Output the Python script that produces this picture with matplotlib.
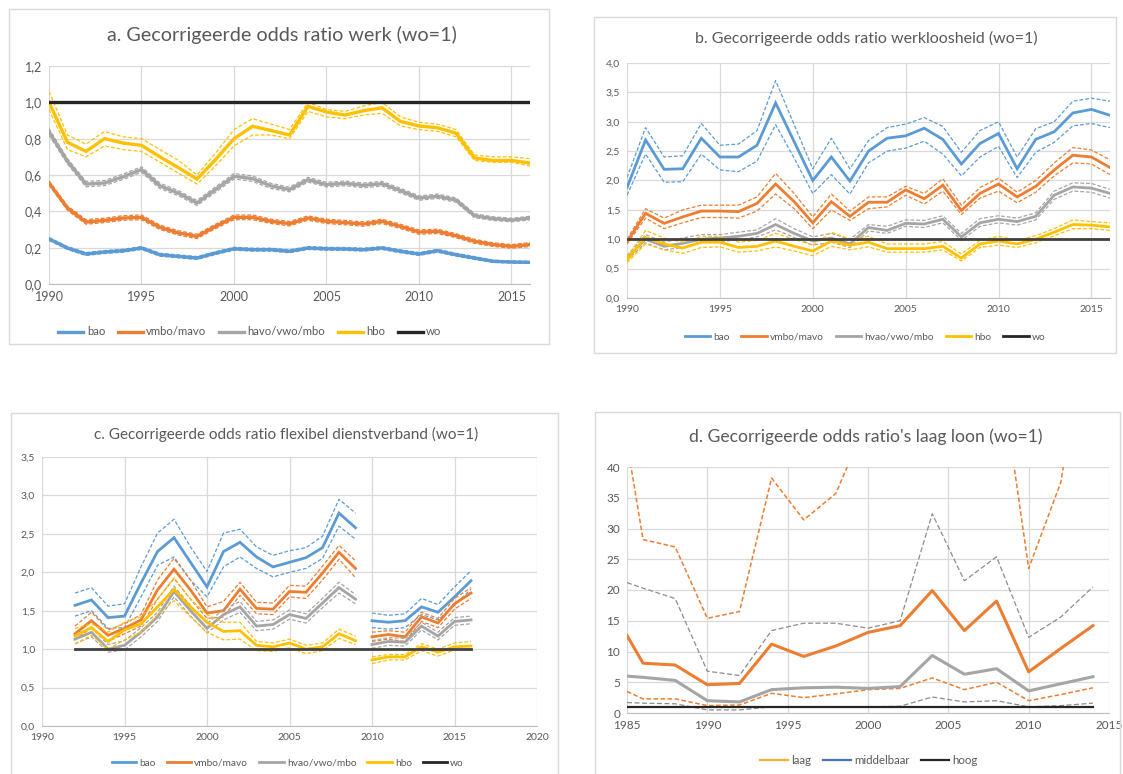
import matplotlib
matplotlib.use('Agg')
import matplotlib.pyplot as plt
from matplotlib.lines import Line2D
from matplotlib.patches import Rectangle

plt.rcParams['font.family'] = ['Lato', 'DejaVu Sans']

# # Data
# panel a/b: yearly 1990-2016
years_ab = list(range(1990, 2017))

a_bao = [0.248, 0.198, 0.165, 0.176, 0.183, 0.198, 0.161, 0.152, 0.143, 0.170, 0.194, 0.189, 0.189, 0.180,
         0.198, 0.194, 0.193, 0.189, 0.198, 0.180, 0.165, 0.183, 0.161, 0.143, 0.125, 0.121, 0.119]
a_bao_hi = [0.256, 0.206, 0.173, 0.184, 0.191, 0.206, 0.169, 0.160, 0.151, 0.178, 0.202, 0.197, 0.197, 0.188,
            0.206, 0.202, 0.201, 0.197, 0.206, 0.188, 0.173, 0.191, 0.169, 0.151, 0.131, 0.127, 0.125]
a_bao_lo = [0.240, 0.190, 0.157, 0.168, 0.175, 0.190, 0.153, 0.144, 0.135, 0.162, 0.186, 0.181, 0.181, 0.172,
            0.190, 0.186, 0.185, 0.181, 0.190, 0.172, 0.157, 0.175, 0.153, 0.135, 0.119, 0.115, 0.113]
a_vmbo = [0.556, 0.418, 0.341, 0.350, 0.363, 0.367, 0.312, 0.281, 0.262, 0.317, 0.367, 0.367, 0.345, 0.332,
          0.363, 0.345, 0.338, 0.330, 0.345, 0.317, 0.286, 0.290, 0.266, 0.235, 0.217, 0.207, 0.217]
a_vmbo_hi = [0.568, 0.430, 0.354, 0.362, 0.376, 0.380, 0.324, 0.293, 0.274, 0.329, 0.380, 0.380, 0.357, 0.344,
             0.375, 0.357, 0.350, 0.342, 0.357, 0.329, 0.298, 0.302, 0.277, 0.246, 0.227, 0.217, 0.228]
a_vmbo_lo = [0.544, 0.406, 0.329, 0.338, 0.351, 0.354, 0.300, 0.269, 0.250, 0.305, 0.354, 0.354, 0.333, 0.320,
             0.351, 0.333, 0.326, 0.318, 0.333, 0.305, 0.274, 0.278, 0.255, 0.224, 0.207, 0.197, 0.206]
a_havo = [0.837, 0.675, 0.550, 0.556, 0.590, 0.630, 0.540, 0.500, 0.446, 0.520, 0.593, 0.580, 0.540, 0.520,
          0.574, 0.547, 0.554, 0.543, 0.552, 0.514, 0.473, 0.483, 0.462, 0.376, 0.360, 0.352, 0.363]
a_havo_hi = [0.855, 0.690, 0.565, 0.570, 0.605, 0.645, 0.555, 0.514, 0.460, 0.535, 0.608, 0.595, 0.554, 0.533,
             0.587, 0.560, 0.567, 0.556, 0.565, 0.527, 0.485, 0.495, 0.474, 0.387, 0.370, 0.362, 0.373]
a_havo_lo = [0.820, 0.660, 0.535, 0.542, 0.575, 0.615, 0.525, 0.486, 0.432, 0.505, 0.578, 0.565, 0.526, 0.507,
             0.561, 0.534, 0.541, 0.530, 0.539, 0.501, 0.461, 0.471, 0.450, 0.365, 0.350, 0.342, 0.353]
a_hbo = [1.000, 0.780, 0.730, 0.800, 0.776, 0.763, 0.700, 0.640, 0.578, 0.685, 0.800, 0.868, 0.845, 0.820,
         0.978, 0.947, 0.930, 0.954, 0.970, 0.895, 0.870, 0.860, 0.830, 0.694, 0.680, 0.680, 0.666]
a_hbo_hi = [1.06, 0.82, 0.77, 0.84, 0.81, 0.80, 0.74, 0.68, 0.60, 0.72, 0.85, 0.91, 0.88, 0.85,
            1.00, 0.96, 0.95, 0.98, 1.00, 0.92, 0.89, 0.88, 0.85, 0.71, 0.70, 0.70, 0.69]
a_hbo_lo = [0.96, 0.74, 0.70, 0.76, 0.74, 0.73, 0.67, 0.61, 0.55, 0.65, 0.76, 0.82, 0.82, 0.80,
            0.95, 0.92, 0.91, 0.93, 0.94, 0.87, 0.85, 0.84, 0.81, 0.68, 0.67, 0.67, 0.65]

b_bao = [1.88, 2.69, 2.19, 2.20, 2.72, 2.40, 2.40, 2.60, 3.32, 2.66, 2.00, 2.40, 1.99, 2.50,
         2.72, 2.76, 2.89, 2.70, 2.28, 2.63, 2.80, 2.20, 2.70, 2.83, 3.15, 3.21, 3.11]
b_bao_hi = [2.05, 2.90, 2.40, 2.42, 2.97, 2.60, 2.62, 2.85, 3.70, 2.95, 2.20, 2.72, 2.20, 2.68,
            2.90, 2.96, 3.07, 2.92, 2.48, 2.85, 3.00, 2.40, 2.88, 3.00, 3.35, 3.40, 3.35]
b_bao_lo = [1.75, 2.45, 1.97, 1.98, 2.45, 2.18, 2.15, 2.33, 2.95, 2.38, 1.78, 2.10, 1.77, 2.30,
            2.50, 2.55, 2.67, 2.45, 2.08, 2.40, 2.58, 2.05, 2.48, 2.65, 2.93, 2.97, 2.90]
b_vmbo = [0.96, 1.44, 1.27, 1.38, 1.48, 1.48, 1.47, 1.61, 1.94, 1.64, 1.28, 1.64, 1.39, 1.63,
          1.63, 1.84, 1.69, 1.92, 1.49, 1.78, 1.94, 1.72, 1.90, 2.18, 2.43, 2.40, 2.22]
b_vmbo_hi = [1.00, 1.52, 1.36, 1.50, 1.58, 1.58, 1.58, 1.72, 2.12, 1.78, 1.38, 1.77, 1.48, 1.72,
             1.72, 1.90, 1.78, 2.03, 1.58, 1.88, 2.04, 1.80, 2.00, 2.30, 2.56, 2.52, 2.35]
b_vmbo_lo = [0.92, 1.36, 1.18, 1.28, 1.37, 1.37, 1.36, 1.48, 1.77, 1.52, 1.18, 1.50, 1.32, 1.52,
             1.55, 1.75, 1.60, 1.82, 1.42, 1.70, 1.82, 1.62, 1.80, 2.08, 2.30, 2.28, 2.10]
b_havo = [0.68, 1.00, 0.88, 0.93, 1.00, 1.02, 1.05, 1.10, 1.25, 1.10, 0.97, 1.02, 0.92, 1.20,
          1.15, 1.27, 1.26, 1.34, 1.04, 1.28, 1.34, 1.30, 1.39, 1.75, 1.89, 1.87, 1.78]
b_havo_hi = [0.72, 1.08, 0.95, 1.02, 1.08, 1.08, 1.12, 1.16, 1.35, 1.18, 1.04, 1.10, 1.00, 1.25,
             1.22, 1.33, 1.32, 1.40, 1.10, 1.35, 1.40, 1.36, 1.45, 1.82, 1.96, 1.95, 1.85]
b_havo_lo = [0.64, 0.94, 0.82, 0.86, 0.95, 0.96, 0.99, 1.04, 1.16, 1.03, 0.90, 0.95, 0.86, 1.14,
             1.10, 1.22, 1.20, 1.28, 0.98, 1.22, 1.28, 1.24, 1.33, 1.68, 1.82, 1.80, 1.70]
b_hbo = [0.65, 1.03, 0.92, 0.85, 0.95, 0.95, 0.86, 0.88, 0.97, 0.88, 0.80, 0.97, 0.90, 0.95,
         0.84, 0.84, 0.84, 0.88, 0.68, 0.92, 0.97, 0.92, 1.00, 1.12, 1.25, 1.24, 1.21]
b_hbo_hi = [0.70, 1.15, 1.02, 0.95, 1.05, 1.05, 0.95, 0.98, 1.10, 1.00, 0.90, 1.12, 1.00, 1.05,
            0.92, 0.92, 0.92, 0.96, 0.75, 0.98, 1.05, 0.98, 1.06, 1.18, 1.33, 1.30, 1.28]
b_hbo_lo = [0.60, 0.92, 0.82, 0.76, 0.86, 0.87, 0.78, 0.80, 0.87, 0.80, 0.72, 0.88, 0.82, 0.87,
            0.78, 0.78, 0.78, 0.82, 0.63, 0.86, 0.90, 0.86, 0.94, 1.06, 1.18, 1.18, 1.15]

# panel c: 1992-2016, break in the series after 2009
years_c = list(range(1992, 2017))
C_SPLIT = 18
c_bao = [1.57, 1.64, 1.41, 1.43, 1.86, 2.27, 2.45, 2.13, 1.81, 2.27, 2.39, 2.20, 2.07, 2.13, 2.19, 2.32, 2.77, 2.58,
         1.37, 1.35, 1.37, 1.55, 1.48, 1.68, 1.89]
c_bao_hi = [1.73, 1.80, 1.56, 1.59, 2.07, 2.51, 2.69, 2.33, 2.01, 2.51, 2.56, 2.33, 2.22, 2.28, 2.32, 2.47, 2.95, 2.77,
            1.47, 1.44, 1.46, 1.66, 1.58, 1.81, 2.02]
c_bao_lo = [1.43, 1.50, 1.27, 1.28, 1.68, 2.09, 2.20, 1.90, 1.68, 2.07, 2.20, 2.05, 1.94, 2.00, 2.05, 2.18, 2.60, 2.43,
            1.28, 1.26, 1.28, 1.45, 1.38, 1.57, 1.78]
c_vmbo = [1.20, 1.37, 1.18, 1.27, 1.38, 1.77, 2.04, 1.77, 1.47, 1.50, 1.78, 1.53, 1.52, 1.75, 1.74, 1.99, 2.26, 2.05,
          1.16, 1.19, 1.16, 1.42, 1.34, 1.59, 1.73]
c_vmbo_hi = [1.30, 1.48, 1.25, 1.33, 1.45, 1.90, 2.18, 1.90, 1.55, 1.62, 1.87, 1.61, 1.60, 1.83, 1.82, 2.08, 2.35, 2.15,
             1.22, 1.24, 1.22, 1.48, 1.40, 1.66, 1.80]
c_vmbo_lo = [1.12, 1.28, 1.10, 1.20, 1.30, 1.65, 1.92, 1.65, 1.40, 1.42, 1.70, 1.46, 1.45, 1.68, 1.66, 1.90, 2.17, 1.93,
             1.10, 1.13, 1.10, 1.36, 1.28, 1.52, 1.66]
c_havo = [1.13, 1.22, 1.00, 1.05, 1.22, 1.42, 1.75, 1.50, 1.27, 1.45, 1.55, 1.30, 1.32, 1.45, 1.40, 1.60, 1.80, 1.65,
          1.06, 1.10, 1.09, 1.30, 1.17, 1.36, 1.38]
c_havo_hi = [1.19, 1.28, 1.06, 1.11, 1.28, 1.48, 1.82, 1.57, 1.33, 1.52, 1.62, 1.36, 1.38, 1.51, 1.46, 1.66, 1.87, 1.71,
             1.11, 1.15, 1.14, 1.35, 1.22, 1.41, 1.43]
c_havo_lo = [1.07, 1.16, 0.96, 0.99, 1.16, 1.36, 1.68, 1.43, 1.21, 1.38, 1.48, 1.24, 1.26, 1.39, 1.34, 1.54, 1.73, 1.59,
             1.01, 1.05, 1.04, 1.25, 1.12, 1.31, 1.33]
c_hbo = [1.17, 1.28, 1.10, 1.25, 1.33, 1.55, 1.78, 1.55, 1.35, 1.23, 1.24, 1.05, 1.03, 1.08, 1.00, 1.03, 1.20, 1.11,
         0.86, 0.90, 0.90, 1.03, 0.96, 1.03, 1.04]
c_hbo_hi = [1.27, 1.33, 1.22, 1.35, 1.42, 1.65, 1.93, 1.65, 1.45, 1.35, 1.35, 1.10, 1.08, 1.13, 1.05, 1.08, 1.26, 1.17,
            0.90, 0.93, 0.93, 1.07, 1.00, 1.08, 1.10]
c_hbo_lo = [1.07, 1.18, 1.00, 1.12, 1.22, 1.45, 1.63, 1.42, 1.22, 1.12, 1.13, 0.98, 0.97, 1.02, 0.94, 0.98, 1.14, 1.06,
            0.81, 0.86, 0.86, 0.98, 0.91, 0.99, 1.00]

# panel d: laag loon
years_d = [1985, 1986, 1988, 1990, 1992, 1994, 1996, 1998, 2000, 2002, 2004, 2006, 2008, 2010, 2012, 2014]
d_laag = [12.6, 8.1, 7.8, 4.6, 4.8, 11.2, 9.2, 10.9, 13.1, 14.2, 19.9, 13.4, 18.2, 6.7, 10.5, 14.2]
d_laag_hi = [44.0, 28.2, 27.0, 15.4, 16.5, 38.2, 31.4, 35.7, 48.0, 55.0, 70.0, 55.0, 60.0, 23.5, 37.5, 70.0]
d_laag_lo = [3.5, 2.3, 2.3, 1.2, 1.3, 3.2, 2.5, 3.1, 3.8, 4.0, 5.7, 3.8, 5.0, 2.0, 3.0, 4.1]
d_mid = [6.0, 5.8, 5.3, 2.0, 1.8, 3.8, 4.1, 4.2, 4.0, 4.3, 9.35, 6.3, 7.2, 3.6, 4.75, 5.9]
d_mid_hi = [21.2, 20.3, 18.6, 6.8, 6.1, 13.4, 14.6, 14.6, 13.8, 15.0, 32.4, 21.5, 25.4, 12.3, 15.6, 20.5]
d_mid_lo = [1.7, 1.6, 1.5, 0.5, 0.5, 1.0, 1.0, 1.0, 1.0, 1.1, 2.6, 1.8, 2.0, 1.0, 1.2, 1.6]

WO = 1.0  # reference group

LABELS_A = ['bao', 'vmbo/mavo', 'havo/vwo/mbo', 'hbo', 'wo']
LABELS_B = ['bao', 'vmbo/mavo', 'hvao/vwo/mbo', 'hbo', 'wo']
LABELS_D = ['laag', 'middelbaar', 'hoog']

BLUE, ORANGE, GRAY, GOLD, BLACK = '#5B9BD5', '#ED7D31', '#A5A5A5', '#FFC000', '#262626'
TXT = '#595959'
GRID = '#D9D9D9'
DASH = (0, (3, 1.6))

W, H = 1123, 774
fig = plt.figure(figsize=(W / 100, H / 100), dpi=100)


def px_axes(x0, y0, x1, y1):
	""" axes from pixel box (top-left origin) """
	return fig.add_axes([x0 / W, 1 - y1 / H, (x1 - x0) / W, (y1 - y0) / H])


def frame(x0, y0, x1, y1):
	fig.add_artist(Rectangle((x0 / W, 1 - y1 / H), (x1 - x0) / W, (y1 - y0) / H,
		transform=fig.transFigure, fill=False, ec=GRID, lw=1.0))


def style(ax, xlim, xticks, ylim, yticks, decimals, fs):
	ax.set_xlim(*xlim)
	ax.set_ylim(*ylim)
	ax.set_xticks(xticks)
	ax.set_yticks(yticks)
	if decimals:
		ax.set_yticklabels(['{:.1f}'.format(v).replace('.', ',') for v in yticks])
	ax.grid(True, color=GRID, lw=0.9)
	ax.set_axisbelow(True)
	for s in ['top', 'right', 'left']:
		ax.spines[s].set_visible(False)
	ax.spines['bottom'].set_color('#BFBFBF')
	ax.tick_params(length=0, labelcolor=TXT, labelsize=fs, pad=5)


def series(ax, x, mid, hi, lo, color, lw=2.0, dlw=0.9):
	ax.plot(x, hi, color=color, lw=dlw, ls=DASH)
	ax.plot(x, lo, color=color, lw=dlw, ls=DASH)
	ax.plot(x, mid, color=color, lw=lw, solid_joinstyle='miter')


def legend(labels, colors, cx, cy, fs, lw=2.0, hl=2.6, cs=1.3):
	handles = [Line2D([], [], color=c, lw=lw) for c in colors]
	fig.legend(handles, labels, loc='center', bbox_to_anchor=(cx / W, 1 - cy / H), ncol=len(labels),
		frameon=False, fontsize=fs, labelcolor=TXT, handlelength=hl, handletextpad=0.3, columnspacing=cs)


# # a. werk
frame(9, 9, 549, 344)
ax = px_axes(49, 66, 530, 284)
series(ax, years_ab, a_bao, a_bao_hi, a_bao_lo, BLUE, 2.4)
series(ax, years_ab, a_vmbo, a_vmbo_hi, a_vmbo_lo, ORANGE, 2.4)
series(ax, years_ab, a_havo, a_havo_hi, a_havo_lo, GRAY, 2.4)
series(ax, years_ab, a_hbo, a_hbo_hi, a_hbo_lo, GOLD, 2.4)
ax.plot(years_ab, [WO] * len(years_ab), color=BLACK, lw=2.4)
style(ax, (1990, 2016), range(1990, 2016, 5), (0, 1.2), [0, 0.2, 0.4, 0.6, 0.8, 1.0, 1.2], True, 9)
fig.text(282 / W, 1 - 35 / H, 'a. Gecorrigeerde odds ratio werk (wo=1)', ha='center', va='center',
	fontsize=14.2, color=TXT)
legend(LABELS_A, [BLUE, ORANGE, GRAY, GOLD, BLACK], 250, 332, 8.2, 2.4, 2.2, 1.1)

# # b. werkloosheid
frame(594, 17, 1116, 353)
ax = px_axes(627, 63, 1110, 298)
series(ax, years_ab, b_bao, b_bao_hi, b_bao_lo, BLUE)
series(ax, years_ab, b_vmbo, b_vmbo_hi, b_vmbo_lo, ORANGE)
series(ax, years_ab, b_havo, b_havo_hi, b_havo_lo, GRAY)
series(ax, years_ab, b_hbo, b_hbo_hi, b_hbo_lo, GOLD)
ax.plot(years_ab, [WO] * len(years_ab), color='#404040', lw=2.0)
style(ax, (1990, 2016), range(1990, 2016, 5), (0, 4.0), [0, 0.5, 1.0, 1.5, 2.0, 2.5, 3.0, 3.5, 4.0], True, 7.5)
fig.text(866 / W, 1 - 38 / H, 'b. Gecorrigeerde odds ratio werkloosheid (wo=1)', ha='center', va='center',
	fontsize=11.5, color=TXT)
legend(LABELS_B, [BLUE, ORANGE, GRAY, GOLD, BLACK], 865, 337, 7.3, 2.0, 2.5, 1.2)

# # c. flexibel dienstverband
frame(11, 413, 558, 780)
ax = px_axes(42, 457, 537, 726)
for mid, hi, lo, col in [(c_bao, c_bao_hi, c_bao_lo, BLUE), (c_vmbo, c_vmbo_hi, c_vmbo_lo, ORANGE),
		(c_havo, c_havo_hi, c_havo_lo, GRAY), (c_hbo, c_hbo_hi, c_hbo_lo, GOLD)]:
	series(ax, years_c[:C_SPLIT], mid[:C_SPLIT], hi[:C_SPLIT], lo[:C_SPLIT], col)
	series(ax, years_c[C_SPLIT:], mid[C_SPLIT:], hi[C_SPLIT:], lo[C_SPLIT:], col)
ax.plot(years_c, [WO] * len(years_c), color='#404040', lw=2.0)
style(ax, (1990, 2020), range(1990, 2021, 5), (0, 3.5), [0, 0.5, 1.0, 1.5, 2.0, 2.5, 3.0, 3.5], True, 7.5)
fig.text(286 / W, 1 - 434 / H, 'c. Gecorrigeerde odds ratio flexibel dienstverband (wo=1)', ha='center',
	va='center', fontsize=11.0, color=TXT)
legend(LABELS_B, [BLUE, ORANGE, GRAY, GOLD, BLACK], 288, 763, 7.3, 2.0, 2.4, 1.1)

# # d. laag loon
frame(595, 412, 1120, 780)
ax = px_axes(627, 467, 1109, 713)
ax.plot(years_d, d_laag_hi, color=ORANGE, lw=1.1, ls=DASH)
ax.plot(years_d, d_laag_lo, color=ORANGE, lw=1.1, ls=DASH)
ax.plot(years_d, d_mid_hi, color='#8C8C8C', lw=0.9, ls=(0, (4, 2)))
ax.plot(years_d, d_mid_lo, color='#8C8C8C', lw=0.9, ls=(0, (4, 2)))
ax.plot(years_d, d_laag, color=ORANGE, lw=2.2)
ax.plot(years_d, d_mid, color=GRAY, lw=2.2)
ax.plot(years_d, [WO] * len(years_d), color=BLACK, lw=1.6)
style(ax, (1985, 2015), range(1985, 2016, 5), (0, 40), range(0, 41, 5), False, 8.5)
fig.text(866 / W, 1 - 437 / H, "d. Gecorrigeerde odds ratio's laag loon (wo=1)", ha='center', va='center',
	fontsize=12.6, color=TXT)
legend(LABELS_D, ['#F4B030', '#4472C4', BLACK], 869, 761, 8.3, 1.6, 2.4, 1.0)

fig.savefig('out.png', dpi=100)
